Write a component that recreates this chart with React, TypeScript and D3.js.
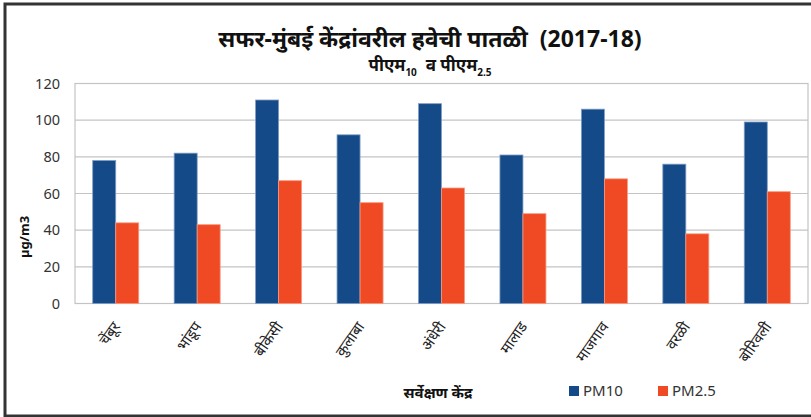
import React from "react";
import * as d3 from "d3";

const categories = ["चेंबूर", "भांडूप", "बीकेसी", "कुलाबा", "अंधेरी", "मालाड", "माजगाव", "वरळी", "बोरिवली"];
const pm10 = [78, 82, 111, 92, 109, 81, 106, 76, 99];
const pm25 = [44, 43, 67, 55, 63, 49, 68, 38, 61];
const yTicks = [0, 20, 40, 60, 80, 100, 120];
const seriesNames = ["PM10", "PM2.5"];
const colors = ["#144A87", "#EF4A23"];

const W = 811, H = 417;
const left = 75, right = 808, top = 83.5, bottom = 303.5;
const FONT = "'Noto Sans', 'Open Sans', sans-serif";

export default function App() {
  const x = d3.scaleBand<string>().domain(categories).range([left, right]).paddingInner(0.435).paddingOuter(0.2175);
  const y = d3.scaleLinear().domain([0, 120]).range([bottom, top]);
  const bw = x.bandwidth() / 2;
  const series = [pm10, pm25];
  return (
    <svg width={W} height={H} style={{ position: "absolute", left: 0, top: 0, background: "#fff" }} fontFamily={FONT}>
      <rect x={0} y={0} width={W} height={H} fill="#fff" />
      <rect x={5} y={4} width={W + 10} height={H - 5} fill="none" stroke="#333" strokeWidth={3} />
      {yTicks.map((t) => (
        <g key={t}>
          <line x1={left} x2={right} y1={y(t)} y2={y(t)} stroke="#c4c4c4" strokeWidth={1.2} />
          <text x={60} y={y(t)} dy="0.36em" textAnchor="end" fontSize={14.5} fill="#333">{t}</text>
        </g>
      ))}
      <rect x={left} y={top} width={right - left} height={bottom - top} fill="none" stroke="#c4c4c4" strokeWidth={1.2} />
      {categories.map((c, i) => (
        <g key={c}>
          {series.map((s, j) => (
            <rect key={j} x={(x(c) as number) + j * bw} y={y(s[i])} width={bw} height={bottom - y(s[i])}
              fill={colors[j]} stroke={j === 0 ? "#7f9cc4" : "#f79a80"} strokeWidth={0.8} />
          ))}
          <text transform={`translate(${(x(c) as number) + x.bandwidth() / 2 + 5},${bottom + 23}) rotate(-55)`}
            textAnchor="end" fontSize={15} fill="#222">{c}</text>
        </g>
      ))}
      <text x={430} y={47} textAnchor="middle" fontSize={23} fontWeight="bold" fill="#111" style={{ whiteSpace: "pre" }}>{"सफर-मुंबई केंद्रांवरील हवेची पातळी  (2017-18)"}</text>
      <text x={430} y={71} textAnchor="middle" fontSize={17} fontWeight="bold" fill="#111" style={{ whiteSpace: "pre" }}>
        पीएम<tspan fontSize={10} dy={5}>10</tspan><tspan dy={-5}>{"  व पीएम"}</tspan><tspan fontSize={10} dy={5}>2.5</tspan>
      </text>
      <text transform={`translate(29,237) rotate(-90)`} textAnchor="middle" fontSize={13} fontWeight="bold" fill="#111">µg/m3</text>
      <text x={438} y={398} textAnchor="middle" fontSize={15} fontWeight="bold" fill="#111">सर्वेक्षण केंद्र</text>
      {seriesNames.map((n, i) => (
        <g key={n} transform={`translate(${569 + i * 89},0)`}>
          <rect x={0} y={386} width={10} height={10} fill={colors[i]} />
          <text x={14} y={396} fontSize={15} fill="#333">{n}</text>
        </g>
      ))}
    </svg>
  );
}
